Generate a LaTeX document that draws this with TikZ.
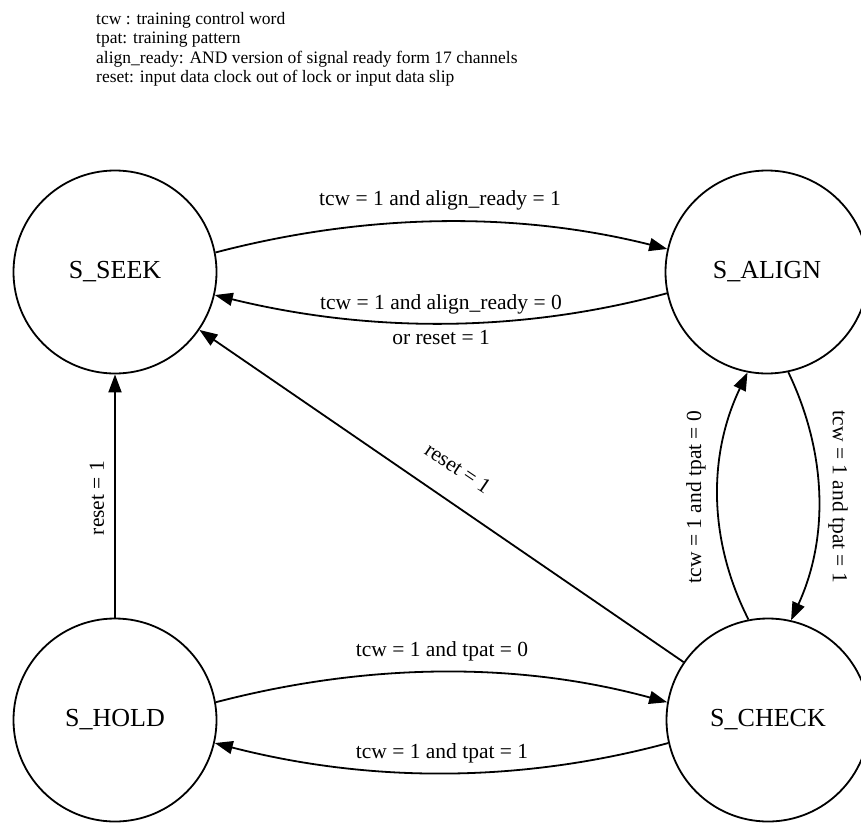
\documentclass[tikz,border=0pt]{standalone}
\usepackage{fontspec}
\setmainfont{Liberation Serif}
\usetikzlibrary{arrows.meta}
\begin{document}
\begin{tikzpicture}[x=1pt,y=-1pt,
  state/.style={circle,draw,line width=1.8pt,minimum size=203pt,inner sep=0pt,
    font=\fontsize{26}{30}\selectfont},
  trans/.style={line width=1.8pt,-{Triangle[length=18pt,width=13pt]}},
  elabel/.style={font=\fontsize{21.5}{24}\selectfont,inner sep=0pt},
  legend/.style={font=\fontsize{17.5}{20}\selectfont,inner sep=0pt,anchor=base west}]
\useasboundingbox (0,0) rectangle (861,822);
\clip (0,0) rectangle (861,822);

% legend
\node[legend] (l1) at (96,24) {tcw : training control word};
\node[legend] (l2) at (96,43.5) {tpat: training pattern};
\node[legend] (l3) at (96,63) {align\_ready: AND version of signal ready form 17 channels};
\node[legend] (l4) at (96,82.5) {reset: input data clock out of lock or input data slip};

% states
\node[state] (seek)  at (115,272) {S\_SEEK};
\node[state] (align) at (767,272) {S\_ALIGN};
\node[state] (hold)  at (115,720) {S\_HOLD};
\node[state] (check) at (768,720) {S\_CHECK};

% S_SEEK <-> S_ALIGN
\draw[trans] (seek.11) .. controls (370,212) and (520,212) .. (align.167.6);
\node[elabel] (t1) at (440,200) {tcw = 1 and align\_ready = 1};
\draw[trans] (align.192.5) .. controls (520,333) and (370,333) .. (seek.347.8);
\node[elabel] (t2) at (441,304) {tcw = 1 and align\_ready = 0};
\node[elabel] (t3) at (441,338) {or reset = 1};

% S_HOLD -> S_SEEK
\draw[trans] (hold.north) -- (seek.south);
\node[elabel,rotate=90] (t4) at (97,498) {reset = 1};

% S_CHECK -> S_SEEK
\draw[trans] (check) -- (seek);
\node[elabel,rotate=-34] (t5) at (458,468) {reset = 1};

% S_ALIGN <-> S_CHECK
\draw[trans] (check.101.9) .. controls (708,540) and (708,455) .. (align.259);
\node[elabel,rotate=90] (t6) at (696,497) {tcw = 1 and tpat = 0};
\draw[trans] (align.282.3) .. controls (828,455) and (828,540) .. (check.77.6);
\node[elabel,rotate=-90] (t7) at (838,497) {tcw = 1 and tpat = 1};

% S_HOLD <-> S_CHECK
\draw[trans] (hold.10) .. controls (370,662) and (520,662) .. (check.170);
\node[elabel] (t8) at (442,651) {tcw = 1 and tpat = 0};
\draw[trans] (check.193) .. controls (520,783) and (370,783) .. (hold.347);
\node[elabel] (t9) at (442,753) {tcw = 1 and tpat = 1};
\end{tikzpicture}
\end{document}
